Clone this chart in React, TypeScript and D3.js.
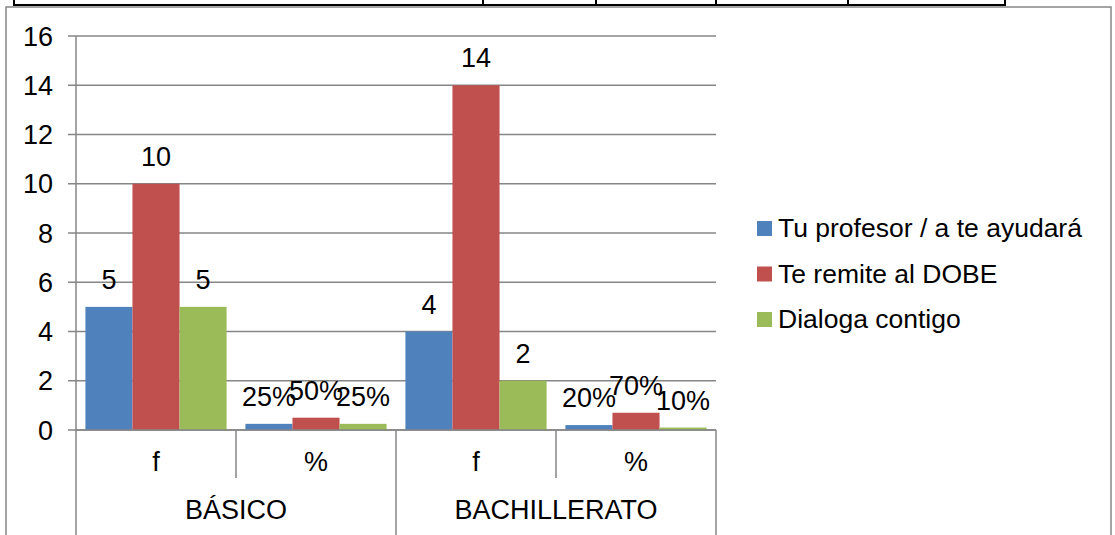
import React from "react";
import * as d3 from "d3";

const groups = ["BÁSICO", "BACHILLERATO"];
const subCategories = ["f", "%", "f", "%"];
const seriesNames = ["Tu profesor / a te ayudará", "Te remite al DOBE", "Dialoga contigo"];
const profesorValues = [5, 0.25, 4, 0.2];
const dobeValues = [10, 0.5, 14, 0.7];
const dialogaValues = [5, 0.25, 2, 0.1];
const yTicks = [0, 2, 4, 6, 8, 10, 12, 14, 16];
const colors = ["#4F81BD", "#C0504D", "#9BBB59"];
const tableCols = [14, 483, 596, 716, 848, 1005];

const W = 1115;
const H = 535;
const font = "'Liberation Sans', Arial, sans-serif";
const fs = 27;

export default function App() {
  const seriesValues = [profesorValues, dobeValues, dialogaValues];
  const left = 76, right = 716, top = 36, bottom = 430;
  const x = d3.scaleBand<number>().domain(d3.range(subCategories.length)).range([left, right]).paddingInner(0).paddingOuter(0);
  const xs = d3.scaleBand<number>().domain(d3.range(seriesNames.length)).range([0, x.bandwidth()]).paddingInner(0).paddingOuter(0.2);
  const y = d3.scaleLinear().domain([0, 16]).range([bottom, top]);
  const pct = d3.format(".0%");
  const grid = "#868686";
  const groupW = x.bandwidth() * 2;

  return (
    <svg width={W} height={H} style={{ position: "absolute", left: 0, top: 0, background: "#fff" }} fontFamily={font}>
      {/* table border on top */}
      <line x1={tableCols[0]} x2={tableCols[tableCols.length - 1]} y1={5} y2={5} stroke="#000" strokeWidth={2} />
      {tableCols.map((c) => (
        <line key={c} x1={c} x2={c} y1={0} y2={6} stroke="#000" strokeWidth={2} />
      ))}
      {/* chart border */}
      <rect x={6} y={7} width={1105} height={H} fill="none" stroke={grid} strokeWidth={1.5} />

      {/* gridlines and y ticks */}
      {yTicks.map((t) => (
        <g key={t}>
          <line x1={left - 8} x2={right} y1={y(t)} y2={y(t)} stroke={grid} strokeWidth={1.5} />
          <text x={53} y={y(t) + 9.5} textAnchor="end" fontSize={fs} fill="#000">{t}</text>
        </g>
      ))}
      <line x1={left} x2={left} y1={top} y2={bottom} stroke={grid} strokeWidth={1.5} />

      {/* bars */}
      {subCategories.map((sc, i) => (
        <g key={i}>
          {seriesValues.map((vals, s) => {
            const bx = (x(i) as number) + (xs(s) as number);
            const v = vals[i];
            return (
              <g key={s}>
                <rect x={bx} y={y(v)} width={xs.bandwidth()} height={bottom - y(v)} fill={colors[s]} />
                <text x={bx + xs.bandwidth() / 2} y={y(v) - 18} textAnchor="middle" fontSize={fs} fill="#000">
                  {sc === "%" ? pct(v) : v}
                </text>
              </g>
            );
          })}
        </g>
      ))}

      {/* category axis */}
      <line x1={left} x2={right} y1={bottom} y2={bottom} stroke={grid} strokeWidth={1.5} />
      {d3.range(subCategories.length + 1).map((i) => {
        const xx = left + i * x.bandwidth();
        const outer = i % 2 === 0;
        return <line key={i} x1={xx} x2={xx} y1={bottom} y2={outer ? H : 478} stroke={grid} strokeWidth={1.5} />;
      })}
      {subCategories.map((sc, i) => (
        <text key={i} x={(x(i) as number) + x.bandwidth() / 2} y={471} textAnchor="middle" fontSize={fs} fill="#000">{sc}</text>
      ))}
      {groups.map((g, gi) => (
        <text key={g} x={left + gi * groupW + groupW / 2} y={519} textAnchor="middle" fontSize={fs} fill="#000">{g}</text>
      ))}

      {/* legend */}
      {seriesNames.map((n, s) => (
        <g key={n} transform={`translate(757, ${221 + s * 45.5})`}>
          <rect x={0} y={0} width={15} height={15} fill={colors[s]} />
          <text x={21} y={16} fontSize={26.5} fill="#000">{n}</text>
        </g>
      ))}
    </svg>
  );
}
